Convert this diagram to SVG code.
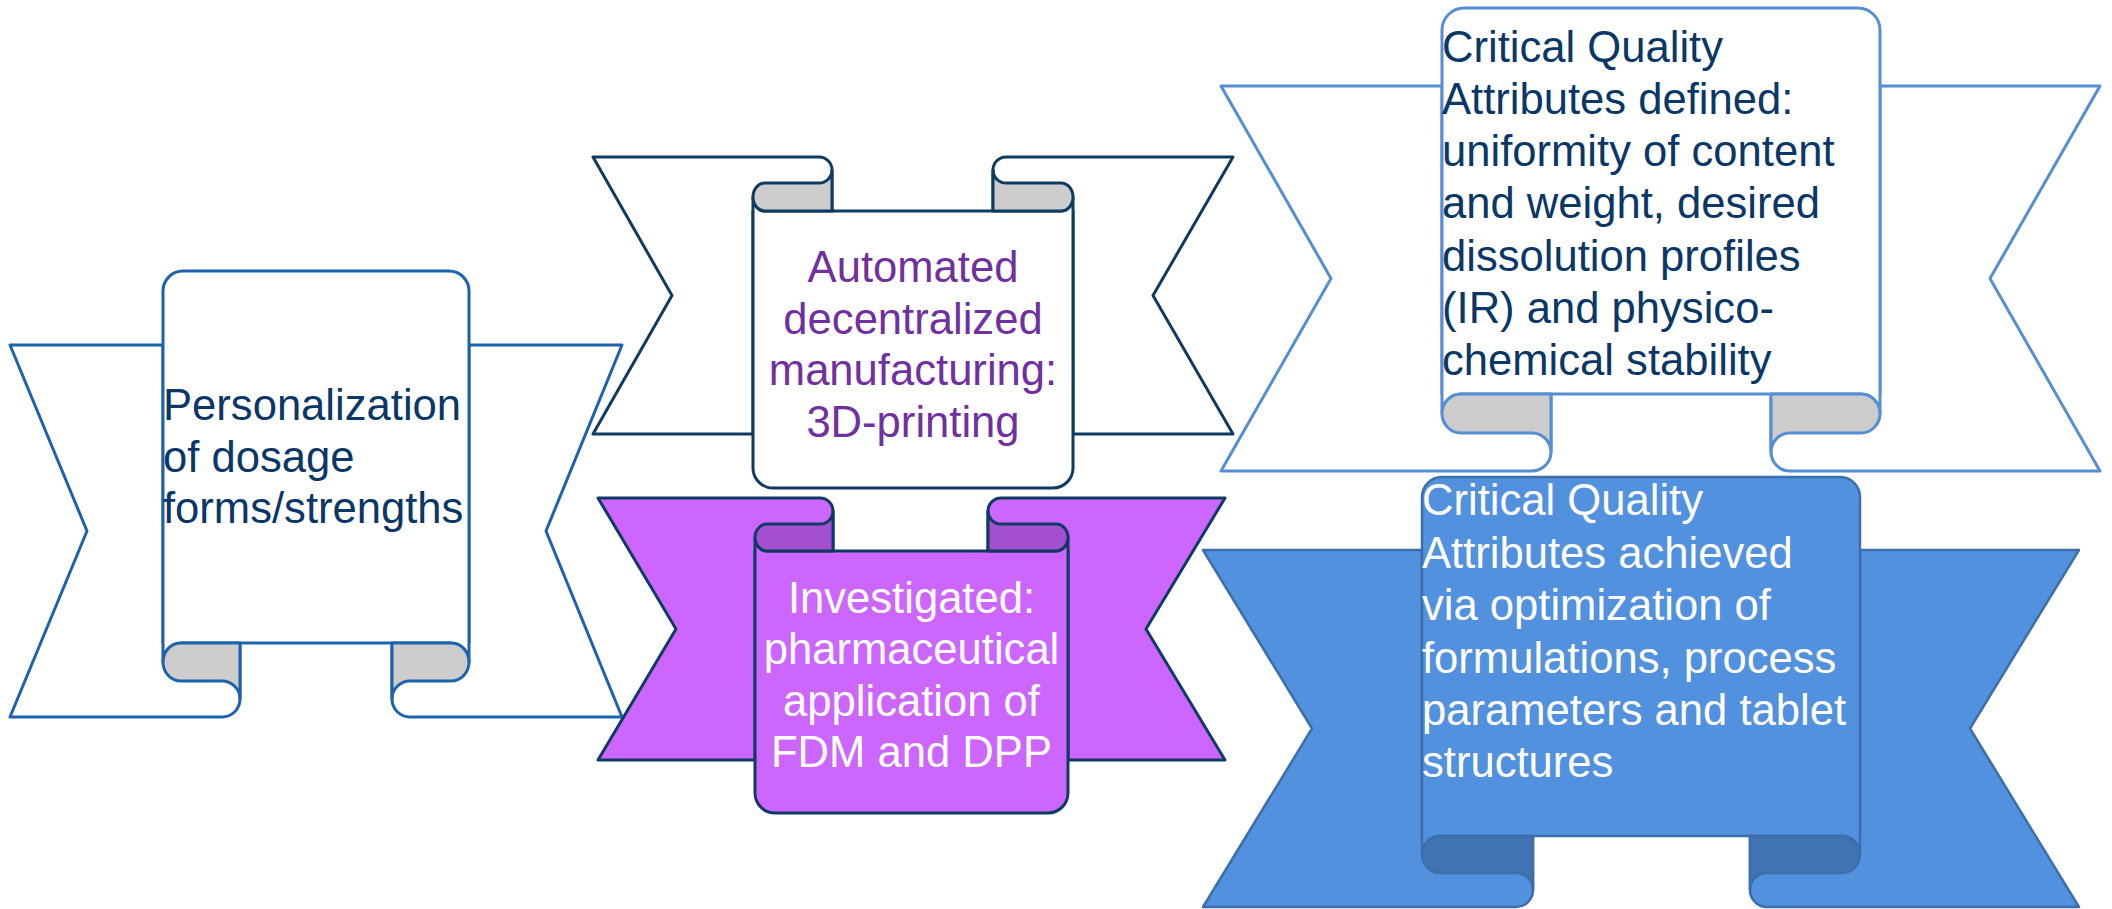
<svg xmlns="http://www.w3.org/2000/svg" width="2112" height="909" viewBox="0 0 2112 909">
<style>
text{font-family:"Liberation Sans",Arial,sans-serif;font-size:43.6px}
.s1{fill:#ffffff;stroke:#1d62ad;stroke-width:3;stroke-linejoin:round}
.g1{fill:#cccccc;stroke:#1d62ad;stroke-width:3;stroke-linejoin:round}
.s2{fill:#ffffff;stroke:#0f3b63;stroke-width:3;stroke-linejoin:round}
.g2{fill:#cccccc;stroke:#0f3b63;stroke-width:3;stroke-linejoin:round}
.s3{fill:#cc66ff;stroke:#0f3b63;stroke-width:3;stroke-linejoin:round}
.g3{fill:#a34fcf;stroke:#0f3b63;stroke-width:3;stroke-linejoin:round}
.s4{fill:#ffffff;stroke:#558ed5;stroke-width:3;stroke-linejoin:round}
.g4{fill:#cccccc;stroke:#558ed5;stroke-width:3;stroke-linejoin:round}
.s5{fill:#5291de;stroke:#3d6eac;stroke-width:2.5;stroke-linejoin:round}
.g5{fill:#3f73b2;stroke:#3d6eac;stroke-width:2.5;stroke-linejoin:round}
.navy{fill:#0b3766}
.purple{fill:#7030a0}
.white{fill:#ffffff}
</style>
<g id="connectors"></g>

<g id="node1">
<path class="s1" d="M163,345 L10,345 L87,531 L10,717 L222,717 A18,18 0 0 0 240,699 L240,643 L163,643 Z"/>
<path class="s1" d="M469,345 L622,345 L546,531 L622,717 L410,717 A18,18 0 0 1 392,699 L392,643 L469,643 Z"/>
<path class="s1" d="M163,662 L163,291 A20,20 0 0 1 183,271 L449,271 A20,20 0 0 1 469,291 L469,662 A18,19 0 0 0 451,643 L181,643 A18,19 0 0 0 163,662 Z"/>
<path class="g1" d="M240,643 L181,643 A18,19 0 0 0 181,681 L222,681 A18,18 0 0 1 240,699 Z"/>
<path class="g1" d="M392,643 L451,643 A18,19 0 0 1 451,681 L410,681 A18,18 0 0 0 392,699 Z"/>
<text class="navy" x="163" y="420">Personalization</text>
<text class="navy" x="163" y="472">of dosage</text>
<text class="navy" x="163" y="523">forms/strengths</text>
</g>

<g id="node2">
<path class="s2" d="M753,434 L593,434 L672,295.5 L593,157 L819,157 A13,13 0 0 1 832,170 L832,211 L753,211 Z"/>
<path class="s2" d="M1073,434 L1233,434 L1153,295.5 L1233,157 L1006,157 A13,13 0 0 0 993,170 L993,211 L1073,211 Z"/>
<path class="s2" d="M753,197 A12,14 0 0 0 765,211 L1061,211 A12,14 0 0 0 1073,197 L1073,468 A20,20 0 0 1 1053,488 L773,488 A20,20 0 0 1 753,468 Z"/>
<path class="g2" d="M832,211 L765,211 A12,14 0 0 1 765,183 L819,183 A13,13 0 0 0 832,170 Z"/>
<path class="g2" d="M993,211 L1061,211 A12,14 0 0 0 1061,183 L1006,183 A13,13 0 0 1 993,170 Z"/>
<g class="purple" text-anchor="middle">
<text x="913" y="282">Automated</text>
<text x="913" y="333.5">decentralized</text>
<text x="913" y="385">manufacturing:</text>
<text x="913" y="437">3D-printing</text>
</g>
</g>

<g id="node3">
<path class="s3" d="M755,760 L598,760 L676,629 L598,498 L820,498 A13,13 0 0 1 833,511 L833,551 L755,551 Z"/>
<path class="s3" d="M1068,760 L1225,760 L1146,629 L1225,498 L1001,498 A13,13 0 0 0 988,511 L988,551 L1068,551 Z"/>
<path class="s3" d="M755,537.5 A12,13.5 0 0 0 767,551 L1056,551 A12,13.5 0 0 0 1068,537.5 L1068,793 A20,20 0 0 1 1048,813 L775,813 A20,20 0 0 1 755,793 Z"/>
<path class="g3" d="M833,551 L767,551 A12,13.5 0 0 1 767,524 L820,524 A13,13 0 0 0 833,511 Z"/>
<path class="g3" d="M988,551 L1056,551 A12,13.5 0 0 0 1056,524 L1001,524 A13,13 0 0 1 988,511 Z"/>
<g class="white" text-anchor="middle">
<text x="911.5" y="612.7">Investigated:</text>
<text x="911.5" y="664.2">pharmaceutical</text>
<text x="911.5" y="715.7">application of</text>
<text x="911.5" y="767.2">FDM and DPP</text>
</g>
</g>

<g id="node4">
<path class="s4" d="M1442,86 L1221,86 L1331,278.5 L1221,471 L1532,471 A19,19 0 0 0 1551,452 L1551,394 L1442,394 Z"/>
<path class="s4" d="M1880,86 L2100,86 L1990,278.5 L2100,471 L1790,471 A19,19 0 0 1 1771,452 L1771,394 L1880,394 Z"/>
<path class="s4" d="M1442,413.5 L1442,30 A22,22 0 0 1 1464,8 L1858,8 A22,22 0 0 1 1880,30 L1880,413.5 A19,19.5 0 0 0 1861,394 L1461,394 A19,19.5 0 0 0 1442,413.5 Z"/>
<path class="g4" d="M1551,394 L1461,394 A19,19.5 0 0 0 1461,433 L1532,433 A19,19 0 0 1 1551,452 Z"/>
<path class="g4" d="M1771,394 L1861,394 A19,19.5 0 0 1 1861,433 L1790,433 A19,19 0 0 0 1771,452 Z"/>
<g class="navy">
<text x="1442" y="61.7">Critical Quality</text>
<text x="1442" y="113.9">Attributes defined:</text>
<text x="1442" y="166.1">uniformity of content</text>
<text x="1442" y="218.3">and weight, desired</text>
<text x="1442" y="270.5">dissolution profiles</text>
<text x="1442" y="322.7">(IR) and physico-</text>
<text x="1442" y="374.9">chemical stability</text>
</g>
</g>

<g id="node5">
<path class="s5" d="M1422,550 L1203,550 L1312,728.5 L1203,907 L1516,907 A17,17 0 0 0 1533,890 L1533,836 L1422,836 Z"/>
<path class="s5" d="M1860,550 L2079,550 L1970,728.5 L2079,907 L1767,907 A17,17 0 0 1 1750,890 L1750,836 L1860,836 Z"/>
<path class="s5" d="M1422,854.5 L1422,497 A20,20 0 0 1 1442,477 L1840,477 A20,20 0 0 1 1860,497 L1860,854.5 A18,18.5 0 0 0 1842,836 L1440,836 A18,18.5 0 0 0 1422,854.5 Z"/>
<path class="g5" d="M1533,836 L1440,836 A18,18.5 0 0 0 1440,873 L1516,873 A17,17 0 0 1 1533,890 Z"/>
<path class="g5" d="M1750,836 L1842,836 A18,18.5 0 0 1 1842,873 L1767,873 A17,17 0 0 0 1750,890 Z"/>
<g class="white">
<text x="1422" y="515">Critical Quality</text>
<text x="1422" y="567.5">Attributes achieved</text>
<text x="1422" y="620">via optimization of</text>
<text x="1422" y="672.5">formulations, process</text>
<text x="1422" y="725">parameters and tablet</text>
<text x="1422" y="777">structures</text>
</g>
</g>
</svg>
